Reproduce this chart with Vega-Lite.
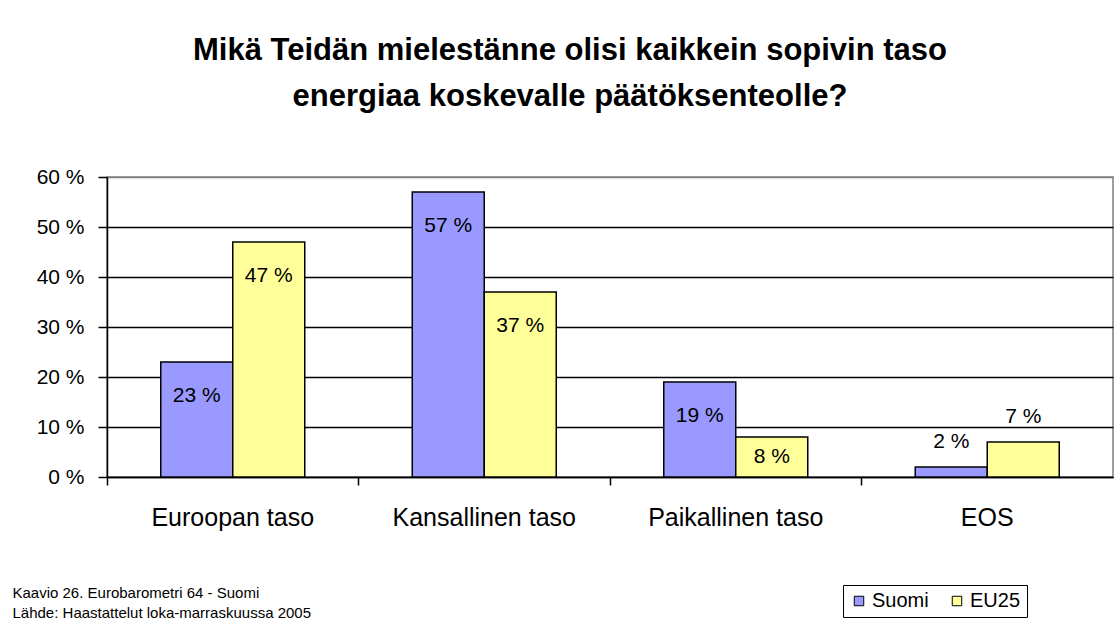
{
  "$schema": "https://vega.github.io/schema/vega-lite/v6.json",
  "width": 1006,
  "height": 300,
  "autosize": {"type": "none"},
  "padding": {"left": 107, "top": 177, "right": 3, "bottom": 147},
  "background": "white",
  "title": {
    "text": ["Mikä Teidän mielestänne olisi kaikkein sopivin taso", "energiaa koskevalle päätöksenteolle?"],
    "font": "Liberation Sans",
    "fontSize": 31,
    "fontWeight": "bold",
    "color": "black",
    "anchor": "middle",
    "frame": "group",
    "dx": -40,
    "offset": 53,
    "lineHeight": 46
  },
  "config": {
    "view": {"stroke": "#808080", "strokeWidth": 1.5},
    "font": "Liberation Sans"
  },
  "data": {
    "values": [
      {"cat": "Euroopan taso", "series": "Suomi", "value": 23},
      {"cat": "Euroopan taso", "series": "EU25", "value": 47},
      {"cat": "Kansallinen taso", "series": "Suomi", "value": 57},
      {"cat": "Kansallinen taso", "series": "EU25", "value": 37},
      {"cat": "Paikallinen taso", "series": "Suomi", "value": 19},
      {"cat": "Paikallinen taso", "series": "EU25", "value": 8},
      {"cat": "EOS", "series": "Suomi", "value": 2},
      {"cat": "EOS", "series": "EU25", "value": 7}
    ]
  },
  "encoding": {
    "x": {
      "field": "cat",
      "type": "nominal",
      "sort": ["Euroopan taso", "Kansallinen taso", "Paikallinen taso", "EOS"],
      "scale": {"paddingInner": 0, "paddingOuter": 0},
      "axis": {
        "labelAngle": 0,
        "labelFont": "Liberation Sans",
        "labelFontSize": 25,
        "labelColor": "black",
        "labelPadding": 20,
        "labelLimit": 500,
        "tickSize": 8,
        "tickColor": "black",
        "tickWidth": 1.5,
        "domainColor": "black",
        "domainWidth": 1.5,
        "bandPosition": 0,
        "title": ["Kaavio 26. Eurobarometri 64 - Suomi", "Lähde: Haastattelut loka-marraskuussa 2005"],
        "titleFont": "Liberation Sans",
        "titleFontSize": 15,
        "titleFontWeight": "normal",
        "titleColor": "black",
        "titleAnchor": "start",
        "titleAlign": "left",
        "titleBaseline": "alphabetic",
        "titleX": -95,
        "titleY": 120,
        "titleLineHeight": 20
      }
    },
    "xOffset": {
      "field": "series",
      "type": "nominal",
      "sort": ["Suomi", "EU25"],
      "scale": {"paddingInner": 0, "paddingOuter": 0.7465}
    },
    "y": {
      "field": "value",
      "type": "quantitative",
      "scale": {"domain": [0, 60], "nice": false},
      "axis": {
        "values": [0, 10, 20, 30, 40, 50, 60],
        "labelExpr": "datum.value + ' %'",
        "labelFont": "Liberation Sans",
        "labelFontSize": 21,
        "labelColor": "black",
        "labelPadding": 14,
        "tickSize": 9,
        "tickColor": "black",
        "tickWidth": 1.5,
        "domainColor": "black",
        "domainWidth": 1.5,
        "grid": true,
        "gridColor": {"condition": {"test": "datum.value == 60", "value": "#808080"}, "value": "black"},
        "gridWidth": 1.5,
        "title": null
      }
    }
  },
  "layer": [
    {
      "mark": {"type": "bar", "stroke": "black", "strokeWidth": 1.5},
      "encoding": {
        "color": {
          "field": "series",
          "type": "nominal",
          "scale": {"domain": ["Suomi", "EU25"], "range": ["#9999FF", "#FFFF99"]},
          "legend": {
            "orient": "none",
            "legendX": 736,
            "legendY": 408,
            "direction": "horizontal",
            "title": null,
            "strokeColor": "black",
            "fillColor": "white",
            "padding": 6,
            "symbolType": "square",
            "symbolSize": 90,
            "symbolStrokeColor": "black",
            "symbolStrokeWidth": 1,
            "symbolOpacity": 1,
            "labelFont": "Liberation Sans",
            "labelFontSize": 20,
            "labelColor": "black",
            "columnPadding": 18,
            "labelOffset": 3
          }
        }
      }
    },
    {
      "mark": {
        "type": "text",
        "font": "Liberation Sans",
        "fontSize": 21,
        "color": "black",
        "baseline": "middle",
        "text": {"expr": "datum.value + ' %'"},
        "dy": {"expr": "datum.value >= 15 ? 34 : (datum.value >= 8 ? 20 : -25)"}
      },
      "encoding": {}
    }
  ]
}
